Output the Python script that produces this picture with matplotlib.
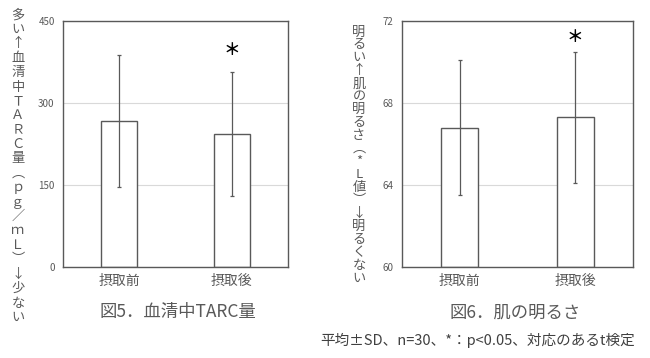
import matplotlib
matplotlib.use("Agg")
import matplotlib.pyplot as plt

plt.rcParams['font.family'] = ['Noto Sans CJK JP', 'DejaVu Sans']

# data
groups = ['摂取前', '摂取後']
tarc_mean = [267, 243]
tarc_sd = [121, 113]
tarc_ticks = [0, 150, 300, 450]
light_mean = [66.8, 67.3]
light_sd = [3.3, 3.2]
light_ticks = [60, 64, 68, 72]

tarc_label = ['多', 'い', '↑', '血', '清', '中', 'Ｔ', 'Ａ', 'Ｒ', 'Ｃ', '量', '︵',
              'ｐ', 'ｇ', '／', 'ｍ', 'Ｌ', '︶', '↓', '少', 'な', 'い']
light_label = ['明', 'る', 'い', '↑', '肌', 'の', '明', 'る', 'さ', '︵', '*', 'L',
               '値', '︶', '↓', '明', 'る', 'く', 'な', 'い']

W, H = 650, 358
grey = '#595959'
grid = '#d9d9d9'

fig = plt.figure(figsize=(W / 100, H / 100), dpi=100)
fig.patch.set_facecolor('white')


def px_axes(x0, y0, x1, y1):
    # pixel box (top-left origin) -> figure fraction
    return fig.add_axes([x0 / W, 1 - y1 / H, (x1 - x0) / W, (y1 - y0) / H])


def bar_panel(ax, means, sds, ticks, star_y):
    x = range(len(groups))
    ax.bar(x, [m - ticks[0] for m in means], bottom=ticks[0], width=0.32,
           color='white', edgecolor=grey, linewidth=1.0, zorder=2)
    ax.errorbar(x, means, yerr=sds, fmt='none', ecolor=grey, elinewidth=0.9,
                capsize=1.5, capthick=0.9, zorder=3)
    ax.set_xlim(-0.5, 1.5)
    ax.set_ylim(ticks[0], ticks[-1])
    ax.set_yticks(ticks)
    ax.set_yticklabels([str(t) for t in ticks], fontsize=7, color=grey)
    ax.set_xticks(list(x))
    ax.set_xticklabels(groups, fontsize=10, color=grey)
    ax.tick_params(length=0, pad=6)
    ax.tick_params(axis='x', pad=5)
    ax.grid(axis='y', color=grid, linewidth=0.8, zorder=0)
    ax.set_axisbelow(True)
    for s in ax.spines.values():
        s.set_color(grey)
        s.set_linewidth(1.0)
    ax.text(1, star_y, '＊', ha='center', va='center', fontsize=12,
            color='black', fontweight='bold')


ax1 = px_axes(63, 21, 288, 267)
bar_panel(ax1, tarc_mean, tarc_sd, tarc_ticks, 397)

ax2 = px_axes(402, 21, 633, 267)
bar_panel(ax2, light_mean, light_sd, light_ticks, 71.2)


def vertical_label(chars, x, y_top, step, size):
    for i, c in enumerate(chars):
        fig.text(x / W, 1 - (y_top + i * step) / H, c, ha='center', va='center',
                 fontsize=size, color=grey)


vertical_label(tarc_label, 18, 15, 14.4, 9.5)
vertical_label(light_label, 359, 32, 12.95, 9.5)

fig.text(178 / W, 1 - 312 / H, '図5．血清中TARC量', ha='center', va='center',
         fontsize=12.5, color=grey)
fig.text(515 / W, 1 - 313 / H, '図6．肌の明るさ', ha='center', va='center',
         fontsize=12.5, color=grey)
fig.text(635 / W, 1 - 340 / H, '平均±SD、n=30、*：p<0.05、対応のあるt検定',
         ha='right', va='center', fontsize=10.5, color='#404040')

fig.savefig('out.png', dpi=100, facecolor='white')
